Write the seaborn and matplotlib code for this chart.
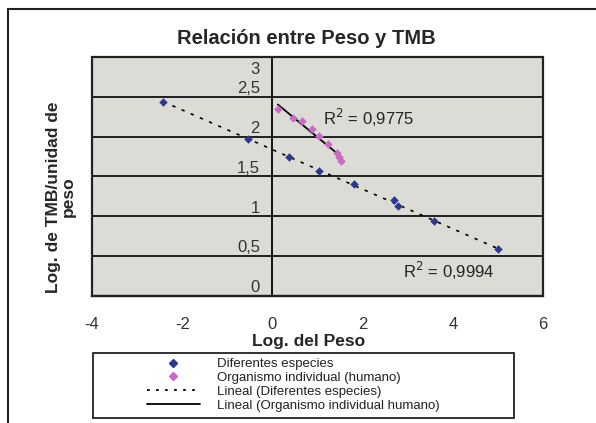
import numpy as np
import pandas as pd
import matplotlib
matplotlib.use("Agg")
import matplotlib.pyplot as plt
import matplotlib.transforms as mtransforms
from matplotlib.lines import Line2D
from matplotlib.patches import Rectangle
import seaborn as sns

# datos
especies_x = [-2.42, -0.53, 0.36, 1.04, 1.82, 2.69, 2.79, 3.58, 5.00]
especies_y = [2.44, 1.97, 1.74, 1.57, 1.40, 1.20, 1.13, 0.94, 0.59]
humano_x = [0.12, 0.46, 0.65, 0.87, 1.03, 1.24, 1.44, 1.48, 1.51]
humano_y = [2.35, 2.23, 2.20, 2.10, 2.01, 1.91, 1.80, 1.74, 1.69]
r2_labels = ["R$^2$ = 0,9775", "R$^2$ = 0,9994"]
x_ticks = [-4, -2, 0, 2, 4, 6]
y_ticks = [0, 0.5, 1, 1.5, 2, 2.5, 3]
y_ticklabels = ["0", "0,5", "1", "1,5", "2", "2,5", "3"]
legend_labels = ["Diferentes especies", "Organismo individual (humano)",
                 "Lineal (Diferentes especies)", "Lineal (Organismo individual humano)"]

df_esp = pd.DataFrame({"x": especies_x, "y": especies_y})
df_hum = pd.DataFrame({"x": humano_x, "y": humano_y})

azul = "#2b3990"
rosa = "#c96bc4"
fondo = "#dcdcd6"

sns.set_style("white")
plt.rcParams["font.family"] = ["Liberation Sans", "DejaVu Sans"]

W, H = 596, 423
fig = plt.figure(figsize=(W / 100, H / 100), dpi=100)
ax = fig.add_axes([92 / W, 1 - 296 / H, (543 - 92) / W, (296 - 57) / H])
ax.set_facecolor(fondo)

# lineas de tendencia
sns.regplot(data=df_esp, x="x", y="y", scatter=False, ci=None, ax=ax,
            line_kws=dict(color="black", lw=1.2, ls=(0, (2, 4))))
sns.regplot(data=df_hum, x="x", y="y", scatter=False, ci=None, ax=ax,
            line_kws=dict(color="black", lw=1.3))

# puntos
sns.scatterplot(data=df_esp, x="x", y="y", marker="D", s=16, color=azul,
                edgecolor=azul, linewidth=0.3, ax=ax, zorder=4)
sns.scatterplot(data=df_hum, x="x", y="y", marker="D", s=16, color=rosa,
                edgecolor=rosa, linewidth=0.3, ax=ax, zorder=3)

ax.set_xlim(-4, 6)
ax.set_ylim(0, 3)
ax.set_xticks(x_ticks)
ax.set_xticklabels([str(t) for t in x_ticks])
ax.set_yticks(y_ticks)
ax.set_yticklabels(y_ticklabels)
ax.set_xlabel("")
ax.set_ylabel("")

# eje y cruzando en x = 0, como en Excel
ax.spines["left"].set_position(("data", 0))
ax.spines["left"].set_linewidth(1.3)
ax.spines["left"].set_color("black")
ax.spines["bottom"].set_linewidth(1.6)
ax.spines["bottom"].set_color("#111111")
ax.spines["top"].set_visible(False)
ax.spines["right"].set_visible(False)
ax.add_patch(Rectangle((0, 0), 1, 1, transform=ax.transAxes, fill=False,
                       ec="#222222", lw=1.6, clip_on=False, zorder=5))

for y in y_ticks[1:-1]:
    ax.axhline(y, color="black", lw=1.2, zorder=1)

ax.tick_params(axis="x", direction="out", length=4, width=1.2, color="#111111",
               pad=11, labelsize=12, labelcolor="#333333")
ax.tick_params(axis="y", direction="out", length=4, width=1.2, color="#111111",
               pad=5, labelsize=12, labelcolor="#333333")

# etiquetas del eje y desplazadas hacia arriba
for lab in ax.get_yticklabels():
    dy = -8 / 72 if lab.get_text() == "3" else 7 / 72
    lab.set_transform(lab.get_transform() +
                      mtransforms.ScaledTranslation(0, dy, fig.dpi_scale_trans))

ax.text(1.12, 2.24, r2_labels[0], fontsize=12, color="#222222", va="center", ha="left")
ax.text(2.89, 0.31, r2_labels[1], fontsize=12, color="#222222", va="center", ha="left")

fig.text(306 / W, 1 - 38 / H, "Relación entre Peso y TMB", fontsize=14.5,
         fontweight="bold", ha="center", va="center")
fig.text(309 / W, 1 - 341 / H, "Log. del Peso", fontsize=12.5,
         fontweight="bold", ha="center", va="center")
fig.text(61 / W, 1 - 197 / H, "Log. de TMB/unidad de\npeso", fontsize=12.5,
         fontweight="bold", ha="center", va="center", rotation=90, linespacing=1.0)

# marco exterior
fig.add_artist(Line2D([8 / W, 8 / W], [0, 1 - 9 / H], transform=fig.transFigure,
                      color="#222222", lw=1.5))
fig.add_artist(Line2D([8 / W, 1], [1 - 9 / H, 1 - 9 / H], transform=fig.transFigure,
                      color="#222222", lw=1.5))

# leyenda
fig.add_artist(Rectangle((93 / W, 1 - 418 / H), (514 - 93) / W, (418 - 353) / H,
                         transform=fig.transFigure, fill=False, ec="#222222", lw=1.3))
handles = [
    Line2D([], [], ls="none", marker="D", ms=4, color=azul),
    Line2D([], [], ls="none", marker="D", ms=4, color=rosa),
    Line2D([], [], color="black", lw=1.3, ls=(0, (1.5, 3.5))),
    Line2D([], [], color="black", lw=1.3),
]
leg = fig.legend(handles, legend_labels, loc="upper left",
                 bbox_to_anchor=(147 / W, 1 - 358 / H), frameon=False,
                 fontsize=9.5, labelspacing=0.12, handlelength=4.0,
                 handletextpad=1.3, borderpad=0, borderaxespad=0)
for t in leg.get_texts():
    t.set_color("#222222")

fig.savefig("out.png", dpi=100)
